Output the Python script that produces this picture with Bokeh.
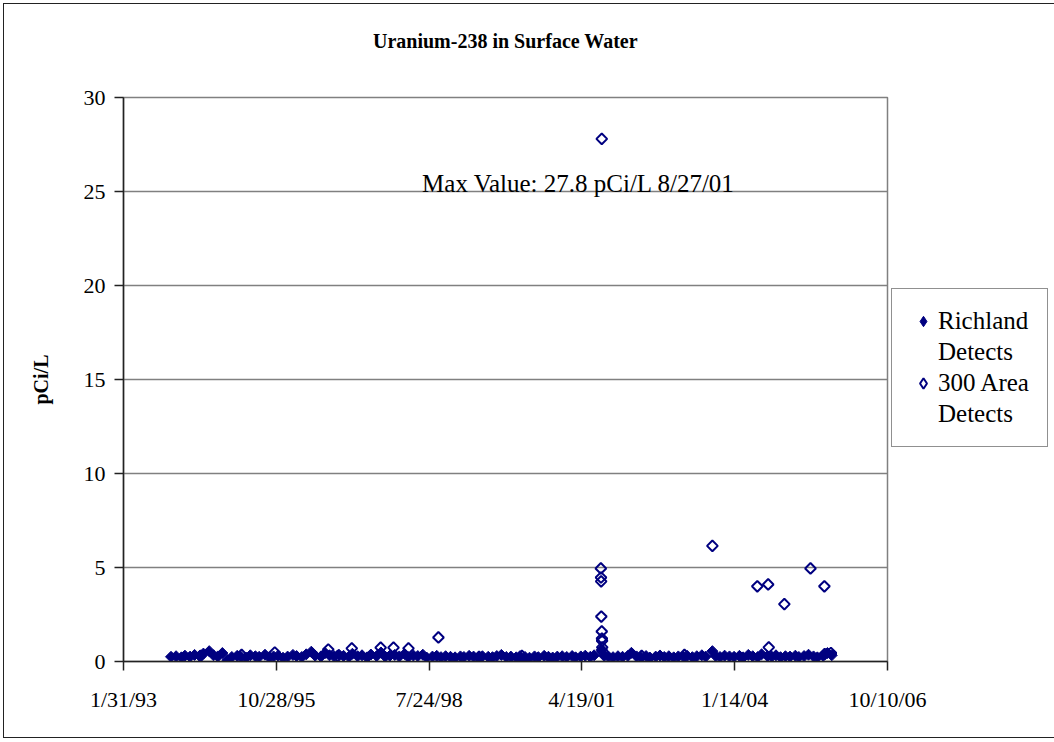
import math
import pandas as pd
from bokeh.plotting import figure
from bokeh.models import (Range1d, FixedTicker, CustomJSTickFormatter, Legend,
                          LegendItem, Label, LinearAxis)
from bokeh.embed import file_html
from bokeh.resources import INLINE

# ---------------- data ----------------
title_text = "Uranium-238 in Surface Water"
y_label = "pCi/L"
x_ticks = ["1993-01-31", "1995-10-28", "1998-07-24", "2001-04-19", "2004-01-14", "2006-10-10"]
y_ticks = [0, 5, 10, 15, 20, 25, 30]

rich_dates = [
    "1993-12-08",
    "1994-01-10", "1994-02-14", "1994-03-09", "1994-04-12", "1994-05-11", "1994-06-13",
    "1994-07-08", "1994-08-15", "1994-09-12", "1994-10-10", "1994-11-09", "1994-12-11",
    "1995-01-10", "1995-02-14", "1995-03-09", "1995-04-12", "1995-05-11", "1995-06-13",
    "1995-07-08", "1995-08-15", "1995-09-12", "1995-10-10", "1995-11-09", "1995-12-11",
    "1996-01-10", "1996-02-14", "1996-03-09", "1996-04-12", "1996-05-11", "1996-06-13",
    "1996-07-08", "1996-08-15", "1996-09-12", "1996-10-10", "1996-11-09", "1996-12-11",
    "1997-01-10", "1997-02-14", "1997-03-09", "1997-04-12", "1997-05-11", "1997-06-13",
    "1997-07-08", "1997-08-15", "1997-09-12", "1997-10-10", "1997-11-09", "1997-12-11",
    "1998-01-10", "1998-02-14", "1998-03-09", "1998-04-12", "1998-05-11", "1998-06-13",
    "1998-07-08", "1998-08-15", "1998-09-12", "1998-10-10", "1998-11-09", "1998-12-11",
    "1999-01-10", "1999-02-14", "1999-03-09", "1999-04-12", "1999-05-11", "1999-06-13",
    "1999-07-08", "1999-08-15", "1999-09-12", "1999-10-10", "1999-11-09", "1999-12-11",
    "2000-01-10", "2000-02-14", "2000-03-09", "2000-04-12", "2000-05-11", "2000-06-13",
    "2000-07-08", "2000-08-15", "2000-09-12", "2000-10-10", "2000-11-09", "2000-12-11",
    "2001-01-10", "2001-02-14", "2001-03-09", "2001-04-12", "2001-05-11", "2001-06-13",
    "2001-07-08", "2001-08-27", "2001-09-12", "2001-10-10", "2001-11-09", "2001-12-11",
    "2002-01-10", "2002-02-14", "2002-03-09", "2002-04-12", "2002-05-11", "2002-06-13",
    "2002-07-08", "2002-08-15", "2002-09-12", "2002-10-10", "2002-11-09", "2002-12-11",
    "2003-01-10", "2003-02-14", "2003-03-09", "2003-04-12", "2003-05-11", "2003-06-13",
    "2003-07-08", "2003-08-21", "2003-09-12", "2003-10-10", "2003-11-09", "2003-12-11",
    "2004-01-10", "2004-02-14", "2004-03-09", "2004-04-12", "2004-05-11", "2004-06-13",
    "2004-07-08", "2004-08-15", "2004-09-12", "2004-10-10", "2004-11-09", "2004-12-11",
    "2005-01-10", "2005-02-14", "2005-03-09", "2005-04-12", "2005-05-11", "2005-06-13",
    "2005-07-08", "2005-08-15", "2005-09-12", "2005-10-10",
]
rich_vals = [
    0.25,
    0.28, 0.22, 0.31, 0.26, 0.35, 0.30, 0.42, 0.55, 0.33, 0.27, 0.45, 0.08,
    0.24, 0.30, 0.26, 0.21, 0.33, 0.28, 0.25, 0.36, 0.22, 0.27, 0.31, 0.20,
    0.26, 0.35, 0.29, 0.24, 0.38, 0.52, 0.31, 0.27, 0.45, 0.33, 0.28, 0.36,
    0.30, 0.25, 0.41, 0.28, 0.33, 0.22, 0.37, 0.29, 0.48, 0.26, 0.31, 0.35,
    0.27, 0.40, 0.24, 0.32, 0.29, 0.36, 0.21, 0.26, 0.30, 0.23, 0.28, 0.25,
    0.22, 0.27, 0.24, 0.30, 0.26, 0.21, 0.28, 0.25, 0.23, 0.29, 0.35, 0.24,
    0.26, 0.22, 0.28, 0.24, 0.20, 0.27, 0.23, 0.30, 0.25, 0.21, 0.26, 0.28,
    0.24, 0.29, 0.22, 0.27, 0.31, 0.25, 0.33, 0.62, 0.30, 0.26, 0.23, 0.28,
    0.25, 0.30, 0.46, 0.27, 0.23, 0.29, 0.21, 0.26, 0.32, 0.24, 0.28, 0.22,
    0.27, 0.25, 0.30, 0.23, 0.28, 0.33, 0.26, 0.55, 0.29, 0.24, 0.31, 0.27,
    0.25, 0.30, 0.22, 0.35, 0.28, 0.24, 0.38, 0.29, 0.26, 0.33, 0.23, 0.28,
    0.26, 0.31, 0.24, 0.29, 0.36, 0.27, 0.22, 0.30, 0.45, 0.33,
]

area_dates = [
    "1994-06-20", "1995-03-15", "1995-10-18", "1996-10-02", "1996-12-04", "1997-03-05",
    "1997-09-10", "1997-12-03", "1998-03-11", "1998-09-23", "1999-06-16", "2000-03-22",
    "2001-08-21", "2001-08-22", "2001-08-23", "2001-08-24", "2001-08-27", "2001-08-27",
    "2001-08-28", "2001-08-29", "2001-08-30", "2001-08-31", "2002-05-15", "2003-02-19",
    "2003-08-21", "2004-06-10", "2004-08-20", "2004-08-24", "2004-12-04", "2005-05-24",
    "2005-08-23", "2005-08-25", "2005-10-05",
]
area_vals = [
    0.30, 0.35, 0.48, 0.64, 0.30, 0.70,
    0.74, 0.74, 0.70, 1.28, 0.25, 0.30,
    4.95, 4.47, 4.26, 2.39, 27.8, 1.60,
    1.22, 1.10, 0.75, 0.55, 0.30, 0.35,
    6.15, 4.00, 4.10, 0.75, 3.05, 4.95,
    4.00, 0.40, 0.45,
]
max_note = "Max Value:  27.8 pCi/L 8/27/01"

# ---------------- styling ----------------
NAVY = "#000080"
FONT = "Liberation Serif"


def ms(s):
    return pd.Timestamp(s).value / 1e6


p = figure(
    x_axis_type="datetime",
    width=1045, height=733,
    frame_width=764, frame_height=564,
    min_border_left=119, min_border_top=93, min_border_bottom=76, min_border_right=0,
    x_range=Range1d(ms(x_ticks[0]), ms(x_ticks[-1])),
    y_range=Range1d(y_ticks[0], y_ticks[-1]),
    output_backend="svg", toolbar_location=None,
)
p.styles = {"border": "1px solid #222222", "margin-left": "3px", "margin-top": "3px"}
p.background_fill_color = "white"
p.border_fill_color = "white"
p.outline_line_color = "#808080"
p.outline_line_width = 1.5

xax = p.below[0]
yax = p.left[0]

# axes
for ax in (xax, yax):
    ax.axis_line_color = "#222222"
    ax.axis_line_width = 1.5
    ax.major_tick_line_color = "#222222"
    ax.major_tick_line_width = 1.5
    ax.major_tick_out = 9
    ax.major_tick_in = 0
    ax.minor_tick_out = 0
    ax.minor_tick_in = 0
    ax.major_label_text_font = FONT
    ax.major_label_text_font_size = "22px"
    ax.major_label_text_color = "black"

xax.ticker = FixedTicker(ticks=[ms(t) for t in x_ticks])
xax.formatter = CustomJSTickFormatter(code="""
const d = new Date(tick);
return (d.getUTCMonth() + 1) + "/" + d.getUTCDate() + "/" + String(d.getUTCFullYear()).slice(-2);
""")
xax.major_label_standoff = 16

yax.ticker = FixedTicker(ticks=y_ticks)
yax.major_label_standoff = 9
yax.axis_label = y_label
yax.axis_label_text_font = FONT
yax.axis_label_text_font_size = "20px"
yax.axis_label_text_font_style = "bold"
yax.axis_label_text_color = "black"
yax.axis_label_standoff = 29

# title: label of a bare axis above the frame
title_axis = LinearAxis(ticker=FixedTicker(ticks=[]), axis_label=title_text,
                        axis_line_color=None, major_tick_line_color=None,
                        minor_tick_line_color=None, major_tick_out=0, major_tick_in=0,
                        minor_tick_out=0, minor_tick_in=0, major_label_standoff=0,
                        axis_label_standoff=46,
                        axis_label_text_font=FONT, axis_label_text_font_size="20px",
                        axis_label_text_font_style="bold", axis_label_text_color="black")
p.add_layout(title_axis, "above")

p.xgrid.visible = False
p.ygrid.ticker = FixedTicker(ticks=y_ticks)
p.ygrid.grid_line_color = "#808080"
p.ygrid.grid_line_width = 1.5

# data
rich_x = pd.to_datetime(rich_dates)
area_x = pd.to_datetime(area_dates)

r1 = p.scatter(x=rich_x, y=rich_vals, marker="square", angle=math.pi / 4, size=7.8,
               fill_color=NAVY, line_color=NAVY, line_width=1)
r2 = p.scatter(x=area_x, y=area_vals, marker="square", angle=math.pi / 4, size=7.6,
               fill_color=None, line_color=NAVY, line_width=2)
# legend keys: diamond markers with an undefined y, so they only appear in the legend
nan = float("nan")
k1 = p.scatter(x=rich_x[:1], y=[nan], marker="diamond", fill_color=NAVY, line_color=NAVY,
               line_width=1)
k2 = p.scatter(x=area_x[:1], y=[nan], marker="diamond", fill_color=None, line_color=NAVY,
               line_width=2)
dummy = p.scatter(x=rich_x[:1], y=[nan], marker="square", fill_alpha=0, line_alpha=0)

# max annotation anchored at the max point
imax = max(range(len(area_vals)), key=lambda i: area_vals[i])
note = Label(x=ms(area_dates[imax]), y=area_vals[imax], text=max_note,
             x_offset=-20, y_offset=-45, text_align="center", text_baseline="middle",
             text_font=FONT, text_font_size="25px", text_color="black")
p.add_layout(note)

legend = Legend(
    items=[
        LegendItem(label="Richland", renderers=[k1]),
        LegendItem(label="Detects", renderers=[dummy]),
        LegendItem(label="300 Area", renderers=[k2]),
        LegendItem(label="Detects", renderers=[dummy]),
    ],
    location=(4, 214),
    border_line_color="#222222", border_line_width=1.5,
    padding=18, spacing=3, label_height=28, glyph_width=26, glyph_height=28,
    label_standoff=2, margin=0,
    label_text_font=FONT, label_text_font_size="25px", label_text_color="black",
    background_fill_color="white",
)
p.add_layout(legend, "right")

open("out.html", "w").write(file_html(p, INLINE))
